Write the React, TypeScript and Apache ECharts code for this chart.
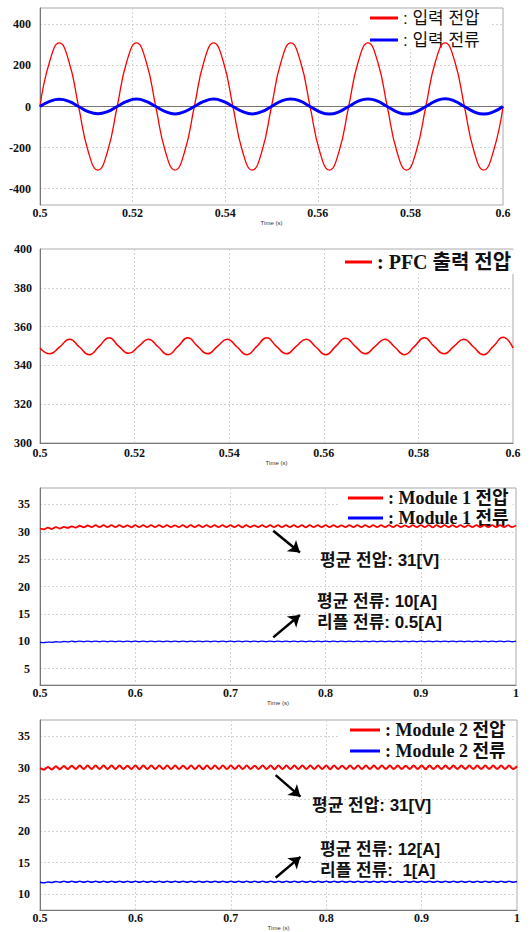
import React, { useEffect, useRef } from "react";
import * as echarts from "echarts";

// ---------- data ----------
const T_START = 0.5;
const P12_STEP = 0.1 / 48; // sample spacing of panels 1-2 (s)
const P34_STEP = 0.5 / 120; // sample spacing of panels 3-4 (s)

const inputVoltage = [
  0, 219, 310, 219, 0, -219, -310, -219,
  0, 219, 310, 219, 0, -219, -310, -219,
  0, 219, 310, 219, 0, -219, -310, -219,
  0, 219, 310, 219, 0, -219, -310, -219,
  0, 219, 310, 219, 0, -219, -310, -219,
  0, 219, 310, 219, 0, -219, -310, -219,
  0,
];
const inputCurrent = [
  0, 25, 35, 25, 0, -25, -35, -25,
  0, 25, 36, 25, 0, -25, -36, -25,
  0, 25, 36, 25, 0, -25, -36, -25,
  0, 26, 37, 26, 0, -26, -37, -26,
  0, 26, 37, 26, 0, -26, -37, -26,
  0, 26, 38, 26, 0, -26, -37, -26,
  0,
];
const pfcVoltage = [
  349, 346, 349.5, 353.5, 349.5, 345.5, 349.8, 354.3,
  349.8, 346.2, 349.8, 353.5, 349.5, 345.5, 349.8, 354.2,
  349.8, 346, 349.8, 353.5, 349.5, 345.5, 349.8, 354.2,
  349.8, 346, 349.8, 353.5, 349.5, 345.5, 349.8, 354,
  349.8, 346, 349.8, 353.5, 349.5, 345.5, 349.8, 354.2,
  349.8, 346, 349.8, 353.5, 349.5, 345.5, 349.8, 354.5,
  349,
];
const module1Voltage = [
  30.6, 30.45, 30.75, 30.5, 30.85, 30.6, 30.9, 30.7, 31.0, 30.75,
  31.1, 30.8, 31.15, 30.85, 31.2, 30.85, 31.2, 30.85, 31.2, 30.85,
  31.2, 30.85, 31.18, 30.82, 31.2, 30.85, 31.2, 30.85, 31.2, 30.85,
  31.2, 30.85, 31.2, 30.85, 31.18, 30.85, 31.2, 30.82, 31.2, 30.85,
  31.2, 30.85, 31.2, 30.85, 31.2, 30.85, 31.2, 30.85, 31.2, 30.85,
  31.2, 30.82, 31.2, 30.85, 31.18, 30.85, 31.2, 30.85, 31.2, 30.85,
  31.2, 30.85, 31.2, 30.85, 31.2, 30.85, 31.2, 30.82, 31.2, 30.85,
  31.2, 30.85, 31.2, 30.85, 31.2, 30.85, 31.18, 30.85, 31.2, 30.85,
  31.2, 30.85, 31.2, 30.85, 31.2, 30.85, 31.2, 30.85, 31.2, 30.85,
  31.2, 30.85, 31.18, 30.85, 31.2, 30.85, 31.2, 30.85, 31.2, 30.82,
  31.2, 30.85, 31.2, 30.85, 31.2, 30.85, 31.2, 30.85, 31.2, 30.85,
  31.2, 30.85, 31.2, 30.85, 31.2, 30.85, 31.2, 30.85, 31.2, 30.85,
  31.15,
];
const module1Current = [
  9.8, 9.75, 9.85, 9.8, 9.9, 9.85, 9.95, 9.88, 10.0, 9.9,
  10.02, 9.9, 10.02, 9.9, 10.02, 9.9, 10.02, 9.9, 10.02, 9.9,
  10.02, 9.9, 10.02, 9.9, 10.02, 9.9, 10.02, 9.9, 10.02, 9.9,
  10.02, 9.9, 10.02, 9.9, 10.02, 9.9, 10.02, 9.9, 10.02, 9.9,
  10.02, 9.9, 10.02, 9.9, 10.02, 9.9, 10.02, 9.9, 10.02, 9.9,
  10.02, 9.9, 10.02, 9.9, 10.02, 9.9, 10.02, 9.9, 10.02, 9.9,
  10.02, 9.9, 10.02, 9.9, 10.02, 9.9, 10.02, 9.9, 10.02, 9.9,
  10.02, 9.9, 10.02, 9.9, 10.02, 9.9, 10.02, 9.9, 10.02, 9.9,
  10.02, 9.9, 10.02, 9.9, 10.02, 9.9, 10.02, 9.9, 10.02, 9.9,
  10.02, 9.9, 10.02, 9.9, 10.02, 9.9, 10.02, 9.9, 10.02, 9.9,
  10.02, 9.9, 10.02, 9.9, 10.02, 9.9, 10.02, 9.9, 10.02, 9.9,
  10.02, 9.9, 10.02, 9.9, 10.02, 9.9, 10.02, 9.9, 10.02, 9.9,
  10.0,
];
const module2Voltage = [
  29.9, 29.65, 30.1, 29.7, 30.2, 29.72, 30.25, 29.75, 30.28, 29.75,
  30.3, 29.75, 30.3, 29.75, 30.3, 29.75, 30.3, 29.75, 30.3, 29.75,
  30.3, 29.75, 30.28, 29.75, 30.3, 29.72, 30.3, 29.75, 30.3, 29.75,
  30.3, 29.75, 30.3, 29.75, 30.3, 29.75, 30.28, 29.75, 30.3, 29.75,
  30.3, 29.72, 30.3, 29.75, 30.3, 29.75, 30.3, 29.75, 30.3, 29.75,
  30.3, 29.75, 30.3, 29.75, 30.28, 29.75, 30.3, 29.75, 30.3, 29.72,
  30.3, 29.75, 30.3, 29.75, 30.3, 29.75, 30.3, 29.75, 30.3, 29.75,
  30.3, 29.75, 30.3, 29.72, 30.3, 29.75, 30.28, 29.75, 30.3, 29.75,
  30.3, 29.75, 30.3, 29.75, 30.3, 29.75, 30.3, 29.75, 30.3, 29.75,
  30.3, 29.75, 30.28, 29.75, 30.3, 29.75, 30.3, 29.72, 30.3, 29.75,
  30.3, 29.75, 30.3, 29.75, 30.3, 29.75, 30.3, 29.75, 30.3, 29.75,
  30.3, 29.75, 30.3, 29.75, 30.3, 29.75, 30.3, 29.75, 30.3, 29.75,
  30.2,
];
const module2Current = [
  11.9, 11.8, 11.95, 11.85, 12.02, 11.88, 12.05, 11.9, 12.05, 11.9,
  12.05, 11.9, 12.05, 11.9, 12.05, 11.9, 12.05, 11.9, 12.05, 11.9,
  12.05, 11.9, 12.05, 11.9, 12.05, 11.9, 12.05, 11.9, 12.05, 11.9,
  12.05, 11.9, 12.05, 11.9, 12.05, 11.9, 12.05, 11.9, 12.05, 11.9,
  12.05, 11.9, 12.05, 11.9, 12.05, 11.9, 12.05, 11.9, 12.05, 11.9,
  12.05, 11.9, 12.05, 11.9, 12.05, 11.9, 12.05, 11.9, 12.05, 11.9,
  12.05, 11.9, 12.05, 11.9, 12.05, 11.9, 12.05, 11.9, 12.05, 11.9,
  12.05, 11.9, 12.05, 11.9, 12.05, 11.9, 12.05, 11.9, 12.05, 11.9,
  12.05, 11.9, 12.05, 11.9, 12.05, 11.9, 12.05, 11.9, 12.05, 11.9,
  12.05, 11.9, 12.05, 11.9, 12.05, 11.9, 12.05, 11.9, 12.05, 11.9,
  12.05, 11.9, 12.05, 11.9, 12.05, 11.9, 12.05, 11.9, 12.05, 11.9,
  12.05, 11.9, 12.05, 11.9, 12.05, 11.9, 12.05, 11.9, 12.05, 11.9,
  12.0,
];

const yTicks1 = [-400, -200, 0, 200, 400];
const yTicks3 = [5, 10, 15, 20, 25, 30, 35];
const yTicks4 = [10, 15, 20, 25, 30, 35];

const names1 = [": 입력 전압", ": 입력 전류"];
const names2 = [": PFC 출력 전압"];
const names3 = [": Module 1 전압", ": Module 1 전류"];
const names4 = [": Module 2 전압", ": Module 2 전류"];

const notes3 = ["평균 전압: 31[V]", "평균 전류: 10[A]", "리플 전류: 0.5[A]"];
const notes4 = ["평균 전압: 31[V]", "평균 전류: 12[A]", "리플 전류:  1[A]"];

// ---------- styles ----------
const SERIF = '"Liberation Serif", "Times New Roman", serif';
const SANS_KR = '"Liberation Sans", "Noto Sans CJK KR", sans-serif';
const MIXED = '"Liberation Serif", "Noto Sans CJK KR", serif';
const RED = "#ff0000";
const BLUE = "#0000ff";

const toPairs = (vals: number[], step: number) =>
  vals.map((v, i) => [T_START + i * step, v]);

const tickLabel = {
  fontFamily: SERIF,
  fontWeight: "bold" as const,
  fontSize: 12,
  color: "#111",
};
const split = { show: true, lineStyle: { color: "#d3d3d3", type: [2, 2] as any, width: 1 } };

function mkX(grid: number, max: number, interval: number, margin: number, nameGap: number) {
  return {
    type: "value",
    gridIndex: grid,
    min: T_START,
    max,
    interval,
    name: "Time (s)",
    nameLocation: "middle",
    nameGap,
    nameTextStyle: { fontSize: 6, fontFamily: '"Liberation Sans", sans-serif', color: "#333" },
    axisLine: { show: true, lineStyle: { color: "#777", width: 1 } },
    axisTick: { show: false },
    axisLabel: { ...tickLabel, margin, showMinLabel: true, showMaxLabel: true },
    splitLine: split,
  };
}

function mkY(grid: number, min: number, max: number, margin: number, custom?: number[], interval?: number) {
  const y: any = {
    type: "value",
    gridIndex: grid,
    min,
    max,
    axisLine: { show: true, lineStyle: { color: "#777", width: 1 } },
    axisTick: { show: false, customValues: custom },
    axisLabel: { ...tickLabel, margin, customValues: custom },
    splitLine: split,
  };
  if (interval) y.interval = interval;
  return y;
}

function legendStyle(size: number, family: string, weight: string, lh: number) {
  return { fontFamily: family, fontWeight: weight, fontSize: size, lineHeight: lh, color: "#111" };
}

function noteText(x: number, y: number, text: string) {
  return {
    type: "text",
    x,
    y,
    z: 100,
    style: {
      text,
      fill: "#111",
      fontFamily: SANS_KR,
      fontWeight: "bold",
      fontSize: 17,
      textAlign: "left",
      textVerticalAlign: "middle",
    },
  };
}

function arrows(grid3: boolean) {
  const segs = grid3
    ? [
        [[0.745, 30.2], [0.773, 26.2]],
        [[0.745, 10.7], [0.773, 14.8]],
      ]
    : [
        [[0.747, 28.8], [0.773, 25.4]],
        [[0.747, 12.6], [0.773, 15.9]],
      ];
  return {
    silent: true,
    symbol: ["none", "arrow"],
    symbolSize: 11,
    label: { show: false },
    emphasis: { disabled: true },
    lineStyle: { color: "#000", width: 2.5, type: "solid" },
    data: segs.map((s) => [{ coord: s[0] }, { coord: s[1] }]),
  };
}

const legendBase = {
  orient: "vertical",
  icon: "rect",
  itemHeight: 3,
  backgroundColor: "#fff",
  z: 1,
};

export default function App() {
  const ref = useRef<HTMLDivElement>(null);
  useEffect(() => {
    if (!ref.current) return;
    const chart = echarts.init(ref.current, undefined, { renderer: "svg" });
    const option: any = {
      animation: false,
      backgroundColor: "#fff",
      grid: [
        { left: 40, top: 8, width: 463, height: 197, show: true, borderColor: "#aaa", borderWidth: 1 },
        { left: 40, top: 249, width: 473, height: 194, show: true, borderColor: "#aaa", borderWidth: 1 },
        { left: 40, top: 488, width: 476, height: 197, show: true, borderColor: "#aaa", borderWidth: 1 },
        { left: 40, top: 720, width: 477, height: 197, show: true, borderColor: "#aaa", borderWidth: 1 },
      ],
      xAxis: [
        mkX(0, 0.6, 0.02, 2, 10),
        mkX(1, 0.6, 0.02, 4, 11),
        mkX(2, 1, 0.1, 2, 9),
        mkX(3, 1, 0.1, 2, 10),
      ],
      yAxis: [
        mkY(0, -480, 480, 9, yTicks1),
        mkY(1, 300, 400, 8, undefined, 20),
        mkY(2, 2, 38, 10, yTicks3),
        mkY(3, 7.5, 37.5, 10, yTicks4),
      ],
      legend: [
        {
          ...legendBase,
          data: names1,
          left: 360,
          top: 9,
          itemWidth: 28,
          itemGap: 4,
          padding: [0, 10, 0, 10],
          textStyle: legendStyle(17, SANS_KR, "normal", 18),
        },
        {
          ...legendBase,
          data: names2,
          left: 335,
          top: 250,
          itemWidth: 27,
          padding: [0, 4, 0, 10],
          textStyle: legendStyle(20, MIXED, "bold", 24),
        },
        {
          ...legendBase,
          data: names3,
          left: 338,
          top: 489,
          itemWidth: 35,
          itemGap: 2,
          padding: [0, 4, 0, 10],
          textStyle: legendStyle(18, MIXED, "bold", 18),
        },
        {
          ...legendBase,
          data: names4,
          left: 340,
          top: 721,
          itemWidth: 30,
          itemGap: 3,
          padding: [0, 4, 0, 10],
          textStyle: legendStyle(18, MIXED, "bold", 18),
        },
      ],
      series: [
        {
          name: names1[0], type: "line", xAxisIndex: 0, yAxisIndex: 0, symbol: "none", smooth: 0.5, z: 3,
          lineStyle: { color: RED, width: 1.3 }, itemStyle: { color: RED },
          data: toPairs(inputVoltage, P12_STEP),
        },
        {
          name: names1[1], type: "line", xAxisIndex: 0, yAxisIndex: 0, symbol: "none", smooth: 0.5, z: 3,
          lineStyle: { color: BLUE, width: 3 }, itemStyle: { color: BLUE },
          data: toPairs(inputCurrent, P12_STEP),
        },
        {
          name: names2[0], type: "line", xAxisIndex: 1, yAxisIndex: 1, symbol: "none", smooth: 0.5, z: 3,
          lineStyle: { color: RED, width: 1.5 }, itemStyle: { color: RED },
          data: toPairs(pfcVoltage, P12_STEP),
        },
        {
          name: names3[0], type: "line", xAxisIndex: 2, yAxisIndex: 2, symbol: "none", smooth: 0.3, z: 3,
          lineStyle: { color: RED, width: 1.8 }, itemStyle: { color: RED },
          data: toPairs(module1Voltage, P34_STEP),
          markLine: arrows(true),
        },
        {
          name: names3[1], type: "line", xAxisIndex: 2, yAxisIndex: 2, symbol: "none", smooth: 0.3, z: 3,
          lineStyle: { color: BLUE, width: 1.3 }, itemStyle: { color: BLUE },
          data: toPairs(module1Current, P34_STEP),
        },
        {
          name: names4[0], type: "line", xAxisIndex: 3, yAxisIndex: 3, symbol: "none", smooth: 0.3, z: 3,
          lineStyle: { color: RED, width: 2 }, itemStyle: { color: RED },
          data: toPairs(module2Voltage, P34_STEP),
          markLine: arrows(false),
        },
        {
          name: names4[1], type: "line", xAxisIndex: 3, yAxisIndex: 3, symbol: "none", smooth: 0.3, z: 3,
          lineStyle: { color: BLUE, width: 1.5 }, itemStyle: { color: BLUE },
          data: toPairs(module2Current, P34_STEP),
        },
      ],
      graphic: [
        noteText(320, 560, notes3[0]),
        noteText(317, 601, notes3[1]),
        noteText(317, 622, notes3[2]),
        noteText(312, 805, notes4[0]),
        noteText(320, 849, notes4[1]),
        noteText(320, 870, notes4[2]),
      ],
    };
    chart.setOption(option);
    return () => chart.dispose();
  }, []);
  return (
    <div
      ref={ref}
      style={{ position: "absolute", left: 0, top: 0, width: 531, height: 932, background: "#fff" }}
    />
  );
}
